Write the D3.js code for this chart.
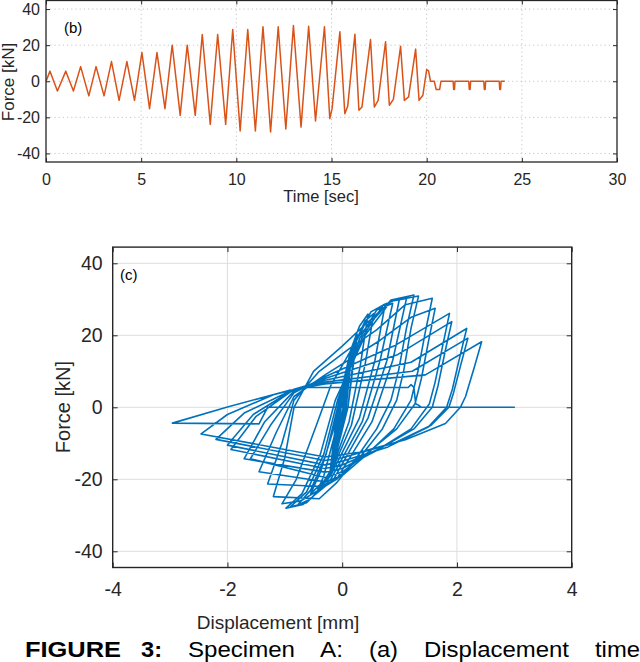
<!DOCTYPE html>
<html><head><meta charset="utf-8">
<script src="https://cdn.jsdelivr.net/npm/d3@7"></script>
<style>
body{margin:0;background:#fff;}
svg{display:block;font-family:"Liberation Sans",Arial,Helvetica,sans-serif;}
</style>
</head><body>
<svg id="chart" width="640" height="662"></svg>
<script>
// ---------- (b) force-time history ----------
const timeSec = [0,0.21,0.6,1.04,1.44,1.82,2.25,2.63,3.05,3.44,3.84,4.25,4.65,5.04,5.44,5.83,6.25,6.63,7.05,7.42,7.84,8.21,8.63,9.02,9.44,9.81,10.2,10.6,11.0,11.4,11.8,12.2,12.6,13.0,13.4,13.8,14.16,14.63,14.91,15.03,15.44,15.7,15.85,16.23,16.44,16.6,17.05,17.25,17.45,17.84,18.04,18.25,18.63,18.83,19.05,19.42,19.6,19.8,20.0,20.1,20.2,20.4,20.5,20.68,20.75,21.39,21.42,21.46,21.49,22.21,22.24,22.28,22.31,23.0,23.03,23.07,23.1,23.81,23.84,23.88,23.91,24.1];
const forceKN = [0,5.6,-5.4,5.6,-5.4,8.1,-8.1,8.1,-8.1,10.9,-10.6,10.9,-10.6,15.9,-15.2,15.9,-15.2,20,-18.9,20,-18.9,25.9,-23.9,25.9,-23.9,28.7,-27.6,28.7,-27.6,30.2,-28.1,30.2,-26.5,30.9,-25.4,30.5,-22,30.2,-20.7,-15.2,27.4,-18,-13.9,26.1,-16.1,-14.3,23.1,-14.3,-10.6,21.9,-13.3,-10,19.4,-10.6,-8.7,17.8,-10.6,-7.8,6.5,5.7,0,0,-4.6,-4.6,0,0,-4.6,-4.6,0,0,-4.6,-4.6,0,0,-4.6,-4.6,0,0,-4.6,-4.6,0,0];
const timeTicks = [0,5,10,15,20,25,30];
const forceTicksTop = [-40,-20,0,20,40];

// ---------- (c) force-displacement hysteresis (vertices [mm, kN]) ----------
const loopsEarly = [[0,0],[0.05,5.6],[0.03,0],[-0.05,-5.4],[-0.03,0],[0.05,5.8],[0.02,0],[-0.06,-5.4],[-0.02,0],
 [0.08,8.1],[0.04,0],[-0.08,-8.1],[-0.04,0],[0.08,8.3],[0.04,0],[-0.08,-8.1],[-0.03,0],
 [0.11,10.9],[0.05,0],[-0.11,-10.6],[-0.05,0],[0.11,11],[0.05,0],[-0.11,-10.6],[-0.05,0],
 [0.16,15.9],[0.07,0],[-0.15,-15.2],[-0.06,0],[0.17,15.9],[0.07,0],[-0.16,-15.2],[-0.06,0],
 [0.24,20],[0.1,0],[-0.2,-18.9],[-0.08,0],[0.26,20.2],[0.1,0],[-0.22,-19],[-0.08,0]];
const loopsMid = [
 [0.15,16],[0.3,22.5],[0.45,25.9],[0.32,12],[0.12,-4],[-0.18,-17],[-0.45,-23.9],[-0.32,-19],[-0.12,-7],[0.02,3],
 [0.2,17],[0.4,24],[0.55,26],[0.4,12],[0.16,-5],[-0.22,-19],[-0.55,-24],[-0.38,-18],[-0.15,-6],[0,3],
 [0.25,18.5],[0.5,26.5],[0.75,28.7],[0.57,13],[0.3,-3],[-0.2,-19],[-0.55,-25.5],[-0.78,-27.2],[-0.55,-23],[-0.28,-13],[-0.05,2],
 [0.3,19],[0.6,27],[0.88,28.9],[0.66,13],[0.35,-4],[-0.2,-20],[-0.62,-26.5],[-0.9,-27.6],[-0.62,-23.5],[-0.32,-13],[-0.08,2],
 [0.35,19.5],[0.72,28.5],[1.0,30.3],[0.78,13],[0.45,-3],[-0.15,-20],[-0.68,-27],[-0.98,-28],[-0.7,-24],[-0.38,-13],[-0.12,2],
 [0.4,20],[0.85,29.5],[1.12,30.2],[0.88,13],[0.52,-4],[-0.1,-20],[-0.72,-26],[-1.05,-26.8],[-0.8,-20],[-0.45,-5],[-0.2,6]];
const loopsLate = [
 [0.3,20],[0.85,29.8],
 [1.25,31.2],[1.12,22],[0.98,10],[0.85,2],[0.6,-6],[0.25,-14],[-0.1,-21],[-0.4,-25.4],[-1.2,-24.8],[-1.0,-14],[-0.84,0],[-0.5,10],[0,17],[0.4,23],[0.85,29.5],
 [1.33,30.9],[1.2,22],[1.07,10],[0.95,2],[0.7,-6],[0.3,-14],[-0.1,-20],[-0.35,-22],[-1.3,-21.3],[-1.05,-10],[-0.84,2],[-0.4,10],[0.1,16],[0.6,21.5],[1.1,28.5],
 [1.57,30.3],[1.45,21],[1.32,10],[1.2,2],[0.9,-6],[0.4,-13.5],[0,-19],[-0.3,-20.7],[-1.45,-17.9],[-1.15,-7],[-0.84,3],[-0.3,9],[0.65,18.5],[1.2,25],
 [1.62,27.5],[1.5,18],[1.38,8],[1.27,1],[0.95,-6],[0.45,-12.5],[0,-18],[-0.3,-19.5],[-1.6,-14.3],[-1.25,-5],[-0.84,4],[-0.3,8.5],[0.9,17],
 [1.87,26.1],[1.75,17],[1.62,7],[1.52,1],[1.2,-6],[0.6,-12],[0,-17],[-0.3,-18],[-1.71,-14.3],[-1.35,-4],[-0.84,4.5],[-0.3,8],[0.95,14.5],
 [1.91,23.8],[1.8,16],[1.67,6],[1.57,0],[1.25,-6],[0.65,-11.5],[0,-16],[-0.3,-17],[-1.94,-11.7],[-1.5,-2.5],[-0.84,5],[-0.3,7.5],[1.2,12.5],
 [2.17,21.9],[2.05,14],[1.92,5],[1.82,0],[1.5,-5.5],[0.8,-11],[0,-15],[-0.3,-16],[-2.0,-10.5],[-1.55,-2],[-0.84,5],[-0.3,7],[1.22,10],
 [2.19,19.2],[2.07,12],[1.94,4],[1.86,0],[1.55,-5],[0.9,-10],[0,-14],[-0.3,-14.8],[-2.2,-8.9],[-1.7,-1.5],[-0.84,5],[-0.3,6.5],[1.45,9],
 [2.43,18.2],[2.3,11],[2.15,3],[2.06,0],[1.8,-4.5],[1.1,-9],[0.3,-12.5],[-0.3,-13.8],[-2.46,-7.4],[-2.0,-2],[-1.2,3.5],[-0.7,5.5]];
const loopsFinal = [[1.15,5.5],[1.2,6.3],[1.25,5.5],[1.28,1],[1.33,0.6],[1.38,0],[3.0,0],[-1.3,0],[-1.45,-4.6],[-2.96,-4.4],[-2.0,0.1],[-0.9,4.8]];
const dispTicks = [-4,-2,0,2,4];
const forceTicksBot = [-40,-20,0,20,40];

const captionBold = ["FIGURE","3:"];
const captionWords = ["Specimen","A:","(a)","Displacement","time"];

const svg = d3.select("#chart");
const AX = "#262626";
const fmt = d => String(d);

// ===== chart (b) =====
const xT = d3.scaleLinear().domain([0,30]).range([46,617]);
const yT = d3.scaleLinear().domain([-44.75,44.75]).range([162,0.5]);
const gT = svg.append("g");
gT.selectAll("line.gx").data(timeTicks.slice(1,-1)).join("line")
  .attr("x1",d=>xT(d)).attr("x2",d=>xT(d)).attr("y1",yT.range()[0]).attr("y2",yT.range()[1])
  .attr("stroke","#c4c4c4").attr("stroke-width",1).attr("stroke-dasharray","1.2,3");
gT.selectAll("line.gy").data(forceTicksTop).join("line")
  .attr("x1",xT(0)).attr("x2",xT(30)).attr("y1",d=>yT(d)).attr("y2",d=>yT(d))
  .attr("stroke","#c4c4c4").attr("stroke-width",1).attr("stroke-dasharray","1.2,3");
gT.append("defs").append("clipPath").attr("id","clipT").append("rect")
  .attr("x",xT(0)).attr("y",0).attr("width",xT(30)-xT(0)).attr("height",yT(-44.75));
gT.append("path").datum(timeSec.map((t,i)=>[t,forceKN[i]]))
  .attr("clip-path","url(#clipT)")
  .attr("fill","none").attr("stroke","#D95319").attr("stroke-width",1.5).attr("stroke-linejoin","round")
  .attr("d",d3.line().x(d=>xT(d[0])).y(d=>yT(d[1])));
gT.append("g").attr("transform",`translate(0,${yT(-44.75)})`)
  .call(d3.axisBottom(xT).tickValues(timeTicks).tickSize(-4).tickPadding(12).tickFormat(fmt));
gT.append("g").attr("transform",`translate(${xT(0)},0)`)
  .call(d3.axisLeft(yT).tickValues(forceTicksTop).tickSize(-4).tickPadding(6).tickFormat(fmt));
gT.append("g").attr("transform",`translate(0,${yT(44.75)})`)
  .call(d3.axisTop(xT).tickValues(timeTicks).tickSize(-4).tickFormat(""));
gT.append("g").attr("transform",`translate(${xT(30)},0)`)
  .call(d3.axisRight(yT).tickValues(forceTicksTop).tickSize(-4).tickFormat(""));
gT.selectAll(".domain").remove();
gT.selectAll(".tick line").attr("stroke",AX).attr("stroke-width",1);
gT.selectAll(".tick text").attr("fill",AX).attr("font-size",16).attr("font-family","Liberation Sans, Arial, sans-serif");
gT.append("rect").attr("x",xT(0)).attr("y",yT(44.75)).attr("width",xT(30)-xT(0)).attr("height",yT(-44.75)-yT(44.75))
  .attr("fill","none").attr("stroke",AX).attr("stroke-width",1.3);
gT.append("text").attr("x",321).attr("y",202).attr("text-anchor","middle").attr("font-size",16.5).attr("fill",AX).text("Time [sec]");
gT.append("text").attr("transform","translate(14,82) rotate(-90)").attr("text-anchor","middle").attr("font-size",17).attr("fill",AX).text("Force [kN]");
gT.append("text").attr("x",64).attr("y",33).attr("font-size",15).attr("fill","#000").text("(b)");

// ===== chart (c) =====
const xB = d3.scaleLinear().domain([-4,4]).range([112.7,571.7]);
const yB = d3.scaleLinear().domain([-44.5,44.5]).range([567.5,247.1]);
const gB = svg.append("g");
gB.selectAll("line.gx").data(dispTicks.slice(1,-1)).join("line")
  .attr("x1",d=>xB(d)).attr("x2",d=>xB(d)).attr("y1",yB(-44.5)).attr("y2",yB(44.5))
  .attr("stroke","#dedede").attr("stroke-width",1);
gB.selectAll("line.gy").data(forceTicksBot).join("line")
  .attr("x1",xB(-4)).attr("x2",xB(4)).attr("y1",d=>yB(d)).attr("y2",d=>yB(d))
  .attr("stroke","#dedede").attr("stroke-width",1);
const hyst = [].concat(loopsEarly,loopsMid,loopsLate,loopsFinal);
gB.append("path").datum(hyst)
  .attr("fill","none").attr("stroke","#0072BD").attr("stroke-width",1.6).attr("stroke-linejoin","round")
  .attr("d",d3.line().x(d=>xB(d[0])).y(d=>yB(d[1])));
gB.append("g").attr("transform",`translate(0,${yB(-44.5)})`)
  .call(d3.axisBottom(xB).tickValues(dispTicks).tickSize(-5).tickPadding(15).tickFormat(fmt));
gB.append("g").attr("transform",`translate(${xB(-4)},0)`)
  .call(d3.axisLeft(yB).tickValues(forceTicksBot).tickSize(-5).tickPadding(10).tickFormat(fmt));
gB.append("g").attr("transform",`translate(0,${yB(44.5)})`)
  .call(d3.axisTop(xB).tickValues(dispTicks).tickSize(-5).tickFormat(""));
gB.append("g").attr("transform",`translate(${xB(4)},0)`)
  .call(d3.axisRight(yB).tickValues(forceTicksBot).tickSize(-5).tickFormat(""));
gB.selectAll(".domain").remove();
gB.selectAll(".tick line").attr("stroke",AX).attr("stroke-width",1);
gB.selectAll(".tick text").attr("fill",AX).attr("font-size",19.5).attr("font-family","Liberation Sans, Arial, sans-serif");
gB.append("rect").attr("x",xB(-4)).attr("y",yB(44.5)).attr("width",xB(4)-xB(-4)).attr("height",yB(-44.5)-yB(44.5))
  .attr("fill","none").attr("stroke",AX).attr("stroke-width",1.4);
gB.append("text").attr("x",278).attr("y",629).attr("text-anchor","middle").attr("font-size",19).attr("fill",AX).text("Displacement [mm]");
gB.append("text").attr("transform","translate(70,407) rotate(-90)").attr("text-anchor","middle").attr("font-size",20).attr("fill",AX).text("Force [kN]");
gB.append("text").attr("x",120).attr("y",280).attr("font-size",15).attr("fill","#000").text("(c)");

// ===== caption (justified line) =====
const capX = [25,141,188,320,369,424,595];
const capW = [96,21,107,23,29,145,45];
const cap = svg.append("g").attr("font-size",22).attr("fill","#000");
captionBold.forEach((w,i)=>cap.append("text").attr("x",capX[i]).attr("y",656.5).attr("font-weight","bold")
  .attr("textLength",capW[i]).attr("lengthAdjust","spacingAndGlyphs").text(w));
captionWords.forEach((w,i)=>cap.append("text").attr("x",capX[i+2]).attr("y",656.5)
  .attr("textLength",capW[i+2]).attr("lengthAdjust","spacingAndGlyphs").text(w));
</script>
</body></html>
